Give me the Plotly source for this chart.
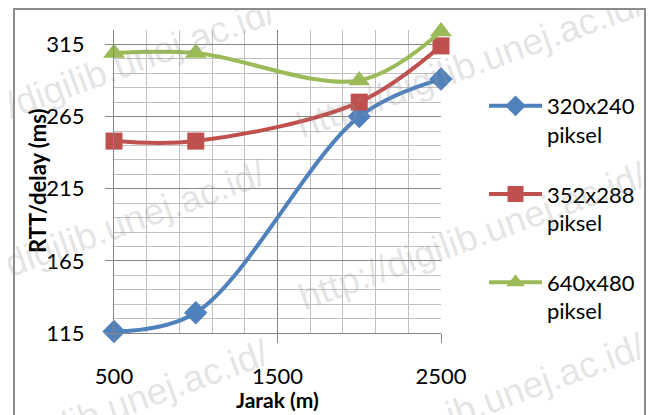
import plotly.graph_objects as go

jarak = [500, 1000, 2000, 2500]
series_names = ["320x240<br>piksel", "352x288<br>piksel", "640x480<br>piksel"]
rtt_320 = [116, 129, 265, 291]
rtt_352 = [248, 248, 275, 314]
rtt_640 = [309, 309, 290, 324]

x_ticks = [500, 1500, 2500]
y_ticks = [115, 165, 215, 265, 315]
x_title = "Jarak (m)"
y_title = "RTT/delay (ms)"

colors = ["#4F81BD", "#C0504D", "#9BBB59"]
symbols = ["diamond", "square", "triangle-up"]
sizes = [18, 17, 19]
values = [rtt_320, rtt_352, rtt_640]

FONT = "Lato"
# page body has an 8px default margin, so the figure is offset by (8, 8)
OFF = 8
L, T, PW, PH = 114 - OFF, 30 - OFF, 327, 303
W, H = 655, 415


def px(xp):
    return (xp - 114) / PW


def py(yp):
    return (333 - yp) / PH


fig = go.Figure()
for i, (name, vals) in enumerate(zip(series_names, values)):
    fig.add_trace(go.Scatter(
        x=jarak, y=vals, name=name, mode="lines+markers",
        line=dict(color=colors[i], width=4, shape="spline", smoothing=1),
        marker=dict(symbol=symbols[i], size=sizes[i], color=colors[i]),
        cliponaxis=False, legendgroup=str(i),
    ))

major = "#868686"
minor = "#c0c0c0"
fig.update_xaxes(
    range=[500, 2500], tickvals=x_ticks, ticks="outside", ticklen=9, tickcolor=major,
    showline=True, linecolor=major, linewidth=1, showgrid=True, gridcolor=major, gridwidth=1,
    zeroline=False, ticklabelstandoff=15, automargin=False,
    tickfont=dict(family=FONT, size=22, color="black"),
    minor=dict(dtick=200, tick0=500, showgrid=True, gridcolor=minor, gridwidth=1),
)
fig.update_yaxes(
    range=[115, 325], tickvals=y_ticks, ticks="outside", ticklen=8, tickcolor=major,
    showline=True, linecolor=major, linewidth=1, showgrid=True, gridcolor=major, gridwidth=1,
    zeroline=False, ticklabelstandoff=16, automargin=False,
    tickfont=dict(family=FONT, size=22, color="black"),
    minor=dict(dtick=10, tick0=115, showgrid=True, gridcolor=minor, gridwidth=1),
)

# axis titles
fig.add_annotation(text=x_title, xref="paper", yref="paper", x=0.5, y=py(400),
                   xanchor="center", yanchor="middle", showarrow=False,
                   font=dict(family=FONT, size=21, color="black", weight="bold"))
fig.add_annotation(text=y_title, xref="paper", yref="paper", x=px(37), y=py(181),
                   xanchor="center", yanchor="middle", showarrow=False, textangle=-90,
                   font=dict(family=FONT, size=22, color="black", weight="bold"))

# watermark text (visible portions)
wm_texts = ["/digilib.unej.ac.id/", "http://digilib.unej.ac.id/", "/digilib.unej.ac.id/",
            "http://digilib.unej.ac.id/", "lib.unej.ac.id/", "ib.unej.ac.id/"]
wm_pos = [(140, 58), (470, 64), (130, 220), (472, 236), (165, 388), (545, 380)]
for t, (cx, cy) in zip(wm_texts, wm_pos):
    fig.add_annotation(
        text=t, xref="paper", yref="paper",
        x=px(cx), y=py(cy), xanchor="center", yanchor="middle",
        showarrow=False, textangle=-20,
        font=dict(family="Liberation Sans", size=37, color="rgba(150,150,150,0.26)"),
    )

# chart border
fig.add_shape(type="rect", xref="paper", yref="paper",
              x0=px(14), x1=px(645), y0=py(425), y1=py(9),
              line=dict(color="#8c8c8c", width=2), layer="below")

fig.update_layout(
    width=W, height=H,
    margin=dict(l=L, r=W - L - PW, t=T, b=H - T - PH, autoexpand=False),
    paper_bgcolor="white", plot_bgcolor="white",
    font=dict(family=FONT, color="black"),
    legend=dict(x=px(484), xanchor="left", y=py(85), yanchor="top",
                font=dict(family=FONT, size=22, color="black"), itemwidth=53,
                valign="top", tracegroupgap=28, bgcolor="rgba(0,0,0,0)"),
    showlegend=True,
)
fig.write_html("out.html")
